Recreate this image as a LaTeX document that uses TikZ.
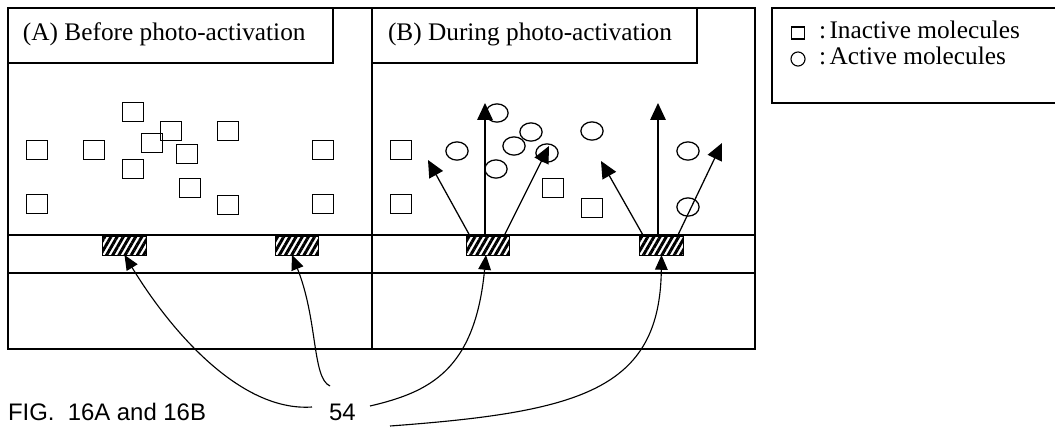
\documentclass[tikz,border=0pt]{standalone}
\usepackage{fontspec}
\setmainfont{Liberation Serif}
\newfontfamily\figfont{Liberation Sans}
\usetikzlibrary{arrows.meta,patterns.meta,shapes.geometric,calc}

\begin{document}
\begin{tikzpicture}[x=0.025cm, y=-0.025cm]
\tikzset{ >={Triangle[length=12pt,width=11pt]}, inner sep=0pt, outer sep=0pt,
  inact/.style={draw, line width=0.9pt, minimum width=14.9pt, minimum height=13.5pt},
  act/.style={draw, ellipse, line width=0.9pt, minimum width=15.8pt, minimum height=13pt},
  pad/.style={draw, line width=0.7pt, minimum width=31pt, minimum height=13.5pt,
    pattern={Lines[angle=60,distance=3.8pt,line width=2.1pt]}},
  lead/.style={line width=0.8pt, -{Triangle[length=10.5pt,width=9pt]}},
  txt/.style={font=\fontsize{18}{20}\selectfont, anchor=base west},
  figlbl/.style={font=\figfont\fontsize{17}{19}\selectfont, anchor=base west},
}

\useasboundingbox (0,0) rectangle (1055,429);

%\draw [lightgray, dashed](0,0) grid[step=50] (1055,429);

% frame and layers
\draw [line width=1pt] (8,8) rectangle (755,349);
\draw [line width=1pt] (372,8) -- (372,349);
\draw [line width=1pt] (8,235) -- (755,235);
\draw [line width=1pt] (8,273) -- (755,273);

\draw [line width=0.9pt] (8,8) rectangle (333,63);
\draw [line width=0.9pt] (372,8) rectangle (697,63);
\node [txt] (titleA) at (23,40) {(A) Before photo-activation};
\node [txt] (titleB) at (388,40) {(B) During photo-activation};

% legend
\draw [line width=0.9pt] (1055,8) -- (772,8) -- (772,103) -- (1055,103);
\node [draw, line width=0.8pt, minimum width=9.5pt, minimum height=8.5pt] (keysq) at (798,33) {};
\node [draw, circle, line width=0.8pt, minimum size=10pt] (keyci) at (798,59) {};
\node [txt] (keyI) at (819,38) {:\kern2.5pt Inactive molecules};
\node [txt] (keyA) at (819,64) {:\kern2.5pt Active molecules};

% pads
\node [pad] (PA1) at (124.5,245.5) {};
\node [pad] (PA2) at (297,245.5) {};
\node [pad] (PB1) at (488,245.5) {};
\node [pad] (PB2) at (661.5,245.5) {};

% (A) inactive molecules
\node [inact] (a1) at (133,112) {};
\node [inact] (a2) at (171,131) {};
\node [inact] (a3) at (152,143) {};
\node [inact] (a4) at (228,131) {};
\node [inact] (a5) at (37,150) {};
\node [inact] (a6) at (94,150) {};
\node [inact] (a7) at (187,154) {};
\node [inact] (a8) at (133,169) {};
\node [inact] (a9) at (323,150) {};
\node [inact] (a10) at (190,188) {};
\node [inact] (a11) at (37,204) {};
\node [inact] (a12) at (228,205) {};
\node [inact] (a13) at (323,204) {};

% (B) inactive and active molecules
\node [inact] (b1) at (401,150) {};
\node [inact] (b2) at (401,204) {};
\node [inact] (b3) at (553,188) {};
\node [inact] (b4) at (592,208) {};

\node [act] (c1) at (457,151) {};
\node [act] (c2) at (497,113) {};
\node [act] (c3) at (531,132) {};
\node [act] (c4) at (514,146) {};
\node [act] (c5) at (547,153) {};
\node [act] (c6) at (496,169) {};
\node [act] (c7) at (592,131) {};
\node [act] (c8) at (688,151) {};
\node [act] (c9) at (688,207) {};

% light from the pads
\coordinate (tB1l) at (428,160);
\coordinate (tB1u) at (485,103);
\coordinate (tB1r) at (549,146);
\coordinate (tB2l) at (601,161);
\coordinate (tB2u) at (658,103);
\coordinate (tB2r) at (722,143);

\draw [->, line width=0.9pt] ($(PB1.north)+(-18,0)$) -- (tB1l);
\draw [->, line width=0.9pt] ($(PB1.north)+(-3,0)$)  -- (tB1u);
\draw [->, line width=0.9pt] ($(PB1.north)+(16,0)$)  -- (tB1r);
\draw [->, line width=0.9pt] ($(PB2.north)+(-18,0)$) -- (tB2l);
\draw [->, line width=0.9pt] ($(PB2.north)+(-3.5,0)$) -- (tB2u);
\draw [->, line width=0.9pt] ($(PB2.north)+(16,0)$)  -- (tB2r);

% caption and reference numeral
\node [figlbl] (fig) at (8,420) {FIG.\ \ 16A and 16B};
\node [figlbl] (num) at (329,420) {54};

\coordinate (s1) at (312,407);
\coordinate (s2) at (330,386);
\coordinate (s3) at (370,406);
\coordinate (s4) at (390,426);

\draw [lead] (s1) .. controls (240,412) and (170,330) .. (PA1.south);
\draw [lead] (s2) .. controls (312,378) and (318,320) .. ($(PA2.south)+(-5,0)$);
\draw [lead] (s3) .. controls (430,392) and (475,370) .. ($(PB1.south)+(-2,0)$);
\draw [lead] (s4) .. controls (580,412) and (660,390) .. (PB2.south);

\end{tikzpicture}
\end{document}
